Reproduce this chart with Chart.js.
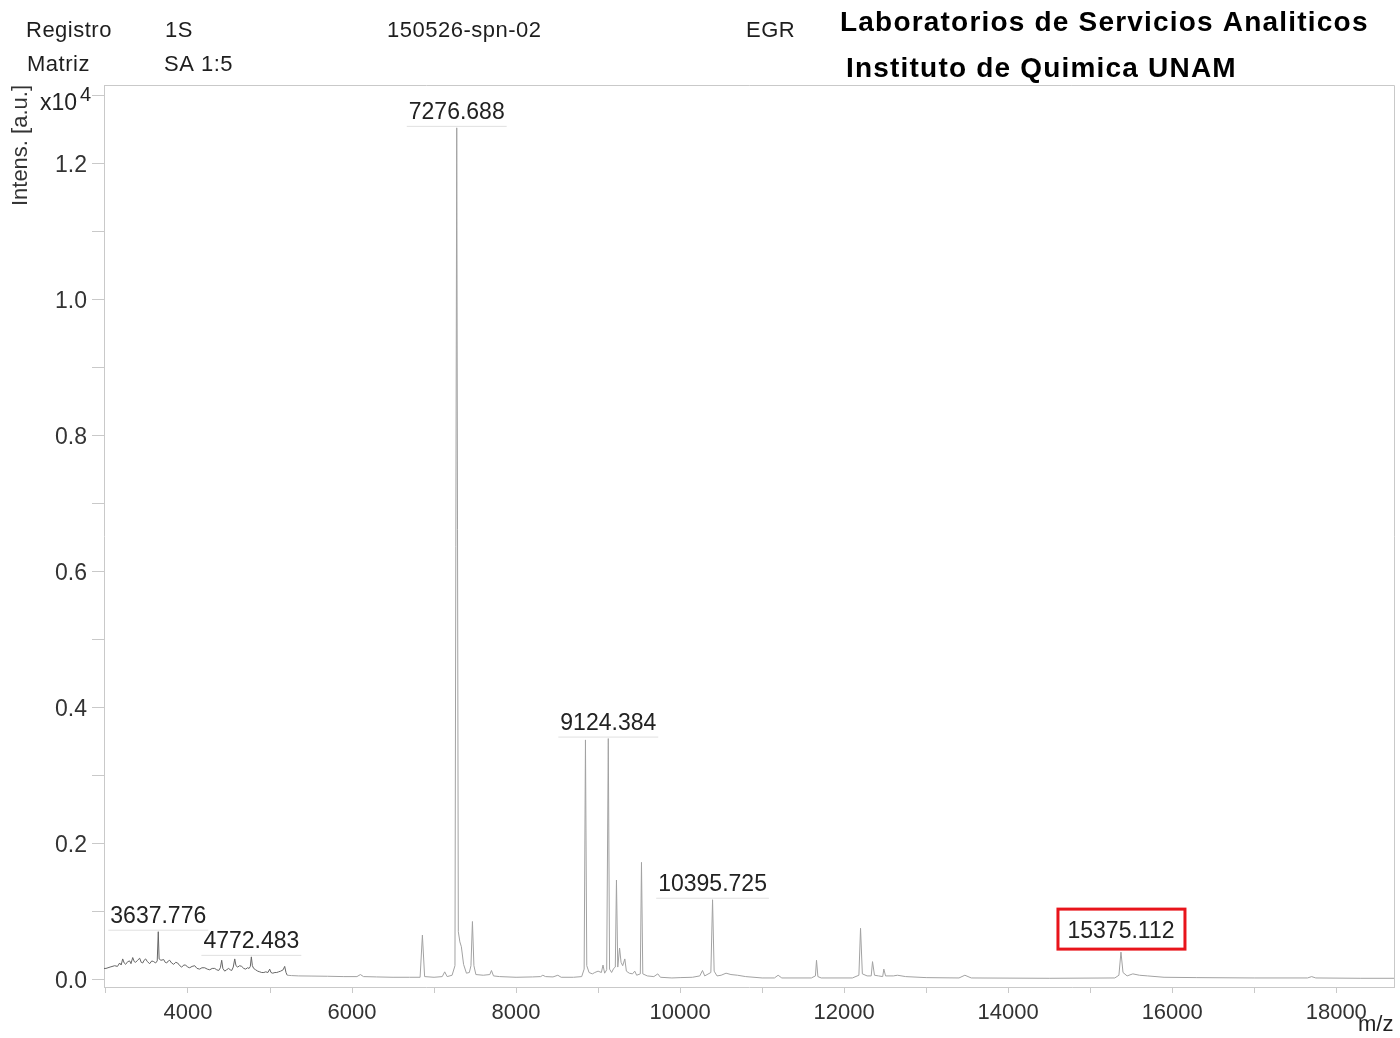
<!DOCTYPE html>
<html>
<head>
<meta charset="utf-8">
<title>Espectro MALDI 1S</title>
<script src="https://cdn.jsdelivr.net/npm/chart.js@4/dist/chart.umd.min.js"></script>
<style>
  html, body { margin: 0; padding: 0; background: #ffffff; }
  canvas { display: block; }
</style>
</head>
<body>
<canvas id="spectrum" width="1400" height="1038"></canvas>
<script>
// m/z positions of the spectrum trace (Da)
const mzValues = [
  2976, 3000, 3050, 3106, 3140, 3167, 3185, 3204, 3222, 3240, 3265, 3289, 3305, 3326, 3345, 3362,
  3385, 3411, 3430, 3448, 3465, 3484, 3505, 3533, 3558, 3582, 3605, 3625, 3637.776, 3648, 3670, 3704,
  3722, 3740, 3760, 3777, 3800, 3826, 3850, 3874, 3900, 3923, 3950, 3972, 3995, 4021, 4050, 4082,
  4110, 4143, 4170, 4204, 4235, 4265, 4295, 4326, 4350, 4375, 4395, 4411, 4425, 4448, 4470, 4496,
  4515, 4533, 4552, 4570, 4585, 4606, 4630, 4655, 4680, 4704, 4725, 4745, 4760, 4772.483, 4785, 4801,
  4825, 4850, 4875, 4899, 4925, 4948, 4975, 4996, 5012, 5033, 5060, 5082, 5105, 5130, 5160, 5179,
  5195, 5210, 5260, 5350, 5500, 5700, 5900, 6060, 6102, 6140, 6300, 6500, 6700, 6830, 6858, 6885,
  7000, 7100, 7130, 7160, 7220, 7255, 7276.688, 7296, 7315, 7333, 7360, 7395, 7430, 7450, 7468, 7486,
  7510, 7600, 7680, 7700, 7725, 7800, 8000, 8200, 8300, 8326, 8360, 8450, 8509, 8550, 8700, 8800,
  8830, 8846, 8862, 8890, 8930, 8960, 9000, 9040, 9060, 9080, 9105, 9124.384, 9140, 9165, 9190, 9210,
  9224, 9240, 9262, 9280, 9300, 9326, 9345, 9380, 9420, 9447, 9470, 9515, 9529, 9545, 9600, 9680,
  9728, 9760, 9900, 10000, 10150, 10240, 10273, 10300, 10375, 10395.725, 10415, 10450, 10500, 10560, 10620, 10700,
  10800, 11000, 11150, 11195, 11240, 11600, 11650, 11663, 11680, 11720, 12100, 12180, 12200, 12222, 12280, 12330,
  12346, 12370, 12420, 12470, 12484, 12505, 12600, 12650, 12750, 13000, 13400, 13472, 13550, 14500, 15300, 15350,
  15375.112, 15400, 15450, 15520, 15600, 15700, 15900, 16300, 17000, 17650, 17700, 17750, 18300, 18704
];

// Intensity at each m/z position (x10^4 a.u.)
const intensityValues = [
  0.016, 0.016, 0.018, 0.020, 0.019, 0.024, 0.021, 0.030, 0.024, 0.022, 0.026, 0.027, 0.023, 0.032, 0.026, 0.025,
  0.028, 0.031, 0.025, 0.024, 0.028, 0.030, 0.026, 0.023, 0.027, 0.026, 0.024, 0.027, 0.070, 0.030, 0.028, 0.029,
  0.025, 0.024, 0.027, 0.028, 0.024, 0.022, 0.025, 0.024, 0.020, 0.018, 0.021, 0.021, 0.018, 0.017, 0.019, 0.020,
  0.016, 0.015, 0.017, 0.017, 0.015, 0.014, 0.016, 0.016, 0.014, 0.013, 0.017, 0.028, 0.016, 0.012, 0.014, 0.016,
  0.014, 0.013, 0.018, 0.030, 0.020, 0.018, 0.020, 0.019, 0.016, 0.015, 0.017, 0.016, 0.019, 0.033, 0.020, 0.016,
  0.014, 0.012, 0.011, 0.010, 0.010, 0.011, 0.010, 0.015, 0.010, 0.009, 0.010, 0.010, 0.011, 0.012, 0.014, 0.019,
  0.010, 0.006, 0.0055, 0.005, 0.0048, 0.0045, 0.004, 0.004, 0.007, 0.004, 0.0035, 0.003, 0.003, 0.003, 0.065, 0.004,
  0.003, 0.004, 0.011, 0.004, 0.006, 0.020, 1.252, 0.070, 0.055, 0.048, 0.022, 0.009, 0.010, 0.020, 0.085, 0.020,
  0.007, 0.006, 0.007, 0.013, 0.005, 0.004, 0.003, 0.0035, 0.004, 0.006, 0.004, 0.0035, 0.006, 0.003, 0.003, 0.004,
  0.015, 0.352, 0.020, 0.010, 0.008, 0.010, 0.012, 0.010, 0.021, 0.009, 0.014, 0.354, 0.015, 0.010, 0.016, 0.018,
  0.146, 0.018, 0.046, 0.025, 0.020, 0.030, 0.012, 0.009, 0.008, 0.012, 0.006, 0.008, 0.172, 0.008, 0.005, 0.004,
  0.008, 0.003, 0.002, 0.0025, 0.003, 0.005, 0.013, 0.005, 0.010, 0.117, 0.012, 0.005, 0.006, 0.009, 0.007, 0.006,
  0.004, 0.002, 0.002, 0.006, 0.002, 0.002, 0.005, 0.028, 0.004, 0.002, 0.002, 0.006, 0.075, 0.008, 0.005, 0.005,
  0.026, 0.006, 0.005, 0.004, 0.015, 0.005, 0.005, 0.006, 0.004, 0.0025, 0.002, 0.006, 0.002, 0.0015, 0.002, 0.006,
  0.040, 0.010, 0.005, 0.008, 0.006, 0.005, 0.003, 0.0025, 0.002, 0.002, 0.004, 0.002, 0.0015, 0.0015
];

// Axis tick positions
const xTickValues = [3000, 4000, 5000, 6000, 7000, 8000, 9000, 10000, 11000, 12000, 13000, 14000, 15000, 16000, 17000, 18000];
const yTickValues = [0, 0.1, 0.2, 0.3, 0.4, 0.5, 0.6, 0.7, 0.8, 0.9, 1.0, 1.1, 1.2, 1.3];

// Peaks carrying an m/z annotation, and the one framed in red
const annotatedPeaks = [3637.776, 4772.483, 7276.688, 9124.384, 10395.725, 15375.112];
const framedPeaks = [15375.112];

// Header fields of the report
const headerRows = [
  ['Registro', '1S', '150526-spn-02', 'EGR'],
  ['Matriz', 'SA 1:5']
];
const labName = ['Laboratorios de Servicios Analiticos', 'Instituto de Quimica UNAM'];

const FONT = '"Liberation Sans", Arial, Helvetica, sans-serif';
const AXIS_GREY = '#c9c9c9';
const TRACE_GREY = '#a2a2a2';
const NOISE_GREY = '#666666';

const points = mzValues.map((m, i) => ({ x: m, y: intensityValues[i] }));

const decorations = {
  id: 'decorations',
  afterDatasetsDraw(chart) {
    const { ctx, chartArea: area, scales: { x, y } } = chart;
    ctx.save();
    // frame: top and right edges of the plot box
    ctx.strokeStyle = AXIS_GREY;
    ctx.lineWidth = 1;
    ctx.beginPath();
    ctx.moveTo(area.left, area.top + 0.5);
    ctx.lineTo(area.right + 0.5, area.top + 0.5);
    ctx.lineTo(area.right + 0.5, area.bottom);
    ctx.stroke();

    // peak annotations
    ctx.font = '23px ' + FONT;
    ctx.textAlign = 'center';
    ctx.textBaseline = 'middle';
    annotatedPeaks.forEach(m => {
      const idx = mzValues.indexOf(m);
      const px = x.getPixelForValue(m);
      const py = y.getPixelForValue(intensityValues[idx]);
      const text = m.toFixed(3);
      const w = ctx.measureText(text).width;
      const framed = framedPeaks.includes(m);
      const ty = framed ? py - 20 : py - 15;
      if (!framed) {
        ctx.strokeStyle = '#e0e0e0';
        ctx.lineWidth = 1;
        ctx.beginPath();
        ctx.moveTo(px - w / 2 - 2, py - 1.5);
        ctx.lineTo(px + w / 2 + 2, py - 1.5);
        ctx.stroke();
      }
      ctx.fillStyle = '#222';
      ctx.fillText(text, px, ty);
      if (framed) {
        ctx.strokeStyle = '#e8141b';
        ctx.lineWidth = 3;
        ctx.strokeRect(px - 63, ty - 23, 127, 40);
      }
    });

    // exponent marker of the intensity axis
    ctx.fillStyle = '#222';
    ctx.textAlign = 'left';
    ctx.font = '23px ' + FONT;
    ctx.fillText('x10', 40, 104);
    ctx.font = '20px ' + FONT;
    ctx.fillText('4', 80, 95);

    // m/z unit at the end of the x axis
    ctx.font = '22px ' + FONT;
    ctx.fillText('m/z', 1358, 1025);
    ctx.restore();
  },
  afterDraw(chart) {
    const { ctx } = chart;
    ctx.save();
    ctx.fillStyle = '#1e1e1e';
    ctx.textBaseline = 'middle';
    ctx.textAlign = 'left';
    ctx.font = '22px ' + FONT;
    ctx.letterSpacing = '0.5px';
    const colX = [[26, 165, 387, 746], [27, 164]];
    const rowY = [31, 65];
    headerRows.forEach((row, r) => {
      row.forEach((t, c) => ctx.fillText(t, colX[r][c], rowY[r]));
    });
    ctx.letterSpacing = '1.2px';
    ctx.fillStyle = '#000';
    ctx.font = 'bold 28px ' + FONT;
    ctx.fillText(labName[0], 840, 23);
    ctx.fillText(labName[1], 846, 69);
    ctx.restore();
  }
};

new Chart(document.getElementById('spectrum'), {
  type: 'line',
  data: {
    datasets: [{
      data: points,
      borderColor: TRACE_GREY,
      borderWidth: 1,
      pointRadius: 0,
      tension: 0,
      fill: false,
      segment: {
        borderColor: c => (c.p1.parsed.x <= 5210 ? NOISE_GREY : TRACE_GREY)
      }
    }]
  },
  options: {
    responsive: false,
    animation: false,
    events: [],
    layout: { padding: { left: 0, top: 85, right: 6, bottom: 0 } },
    plugins: { legend: { display: false }, tooltip: { enabled: false } },
    scales: {
      x: {
        type: 'linear',
        min: 2976,
        max: 18704,
        afterBuildTicks: s => { s.ticks = xTickValues.map(v => ({ value: v })); },
        afterFit: s => { s.height = 51; },
        ticks: {
          autoSkip: false, maxRotation: 0, minRotation: 0, padding: 7,
          color: '#333', font: { family: FONT, size: 22 },
          callback: v => (v % 2000 === 0 ? String(v) : '')
        },
        grid: { drawOnChartArea: false, drawTicks: true, tickLength: 6, color: AXIS_GREY, lineWidth: 1 },
        border: { display: true, color: AXIS_GREY, width: 1 }
      },
      y: {
        type: 'linear',
        min: -0.0113,
        max: 1.315,
        afterBuildTicks: s => { s.ticks = yTickValues.map(v => ({ value: v })); },
        afterFit: s => { s.width = 104; },
        ticks: {
          autoSkip: false, padding: 5, labelOffset: 2,
          color: '#333', font: { family: FONT, size: 23 },
          callback: v => (Math.round(v * 10) % 2 === 0 ? v.toFixed(1) : '')
        },
        grid: { drawOnChartArea: false, drawTicks: true, tickLength: 12, color: AXIS_GREY, lineWidth: 1 },
        border: { display: true, color: AXIS_GREY, width: 1 },
        title: {
          display: true, text: 'Intens. [a.u.]', align: 'end', color: '#333',
          font: { family: FONT, size: 22 }, padding: { top: 8, bottom: 0 }
        }
      }
    }
  },
  plugins: [decorations]
});
</script>
</body>
</html>
